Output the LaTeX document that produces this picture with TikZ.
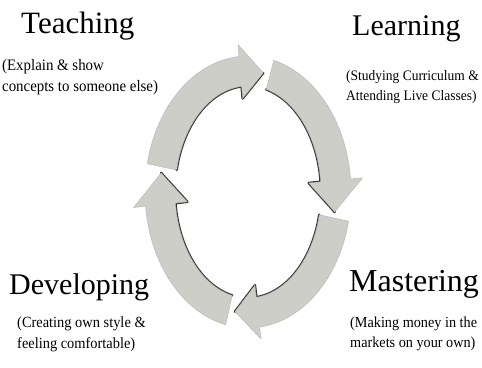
\documentclass[tikz,border=0pt]{standalone}
\usepackage{fontspec}
\setmainfont{Liberation Serif}
\newfontfamily\subfont[FakeStretch=0.93]{Liberation Serif}
\definecolor{arrowgray}{RGB}{206,206,201}
\definecolor{shadowgray}{RGB}{55,55,52}
\def\cx{248}\def\cy{175}\def\ra{88}\def\rb{121}\def\rw{15}\def\rW{27}\def\hl{15}
\newcommand\ringarrow[2]{%
  \pgfmathsetmacro\ringth{#2+\hl}%
  \draw[arrowshadow] plot[domain=#1:\ringth, samples=40] ({\cx+(\ra-\rw)*cos(\x)},{\cy+(\rb-\rw)*sin(\x)})
     -- ({\cx+(\ra-\rW)*cos(\ringth)},{\cy+(\rb-\rW)*sin(\ringth)})
     -- ({\cx+\ra*cos(#2)},{\cy+\rb*sin(#2)});
  \filldraw[arrowbody] plot[domain=#1:\ringth, samples=40] ({\cx+(\ra+\rw)*cos(\x)},{\cy+(\rb+\rw)*sin(\x)})
     -- ({\cx+(\ra+\rW)*cos(\ringth)},{\cy+(\rb+\rW)*sin(\ringth)})
     -- ({\cx+\ra*cos(#2)},{\cy+\rb*sin(#2)})
     -- ({\cx+(\ra-\rW)*cos(\ringth)},{\cy+(\rb-\rW)*sin(\ringth)})
     -- plot[domain=\ringth:#1, samples=40] ({\cx+(\ra-\rw)*cos(\x)},{\cy+(\rb-\rw)*sin(\x)})
     -- cycle;%
}
\begin{document}
\begin{tikzpicture}[x=1pt,y=1pt,
  title/.style={anchor=base west, inner sep=0pt, font=\fontsize{30}{32}\selectfont},
  subtitle/.style={anchor=north west, inner sep=0pt, align=left},
  arrowbody/.style={fill=arrowgray, draw=gray!60, line width=0.4pt, line join=round},
  arrowshadow/.style={draw=shadowgray, line width=2.6pt, line join=round, line cap=round}]
\useasboundingbox (0,0) rectangle (482,367);
% cycle arrows (clockwise)
\ringarrow{168}{80}
\ringarrow{75.5}{-9.5}
\ringarrow{-12.4}{-98.5}
\ringarrow{-102.5}{-189}
% texts
\node[title, font=\fontsize{31}{33}\selectfont] (teach) at (21,333) {Teaching};
\node[subtitle, font=\subfont\fontsize{16}{21.5}\selectfont] (teachsub) at (2,308) {(Explain \& show\\concepts to someone else)};
\node[title] (learn) at (352,331) {Learning};
\node[subtitle, font=\subfont\fontsize{14.5}{20}\selectfont] (learnsub) at (346,297) {(Studying Curriculum \&\\Attending Live Classes)};
\node[title] (dev) at (9,72) {Developing};
\node[subtitle, font=\subfont\fontsize{15.5}{20.5}\selectfont] (devsub) at (17,50) {(Creating own style \&\\feeling comfortable)};
\node[title, font=\fontsize{32}{34}\selectfont] (mast) at (349,75) {Mastering};
\node[subtitle, font=\subfont\fontsize{15.3}{20}\selectfont] (mastsub) at (350,50) {(Making money in the\\markets on your own)};
\end{tikzpicture}
\end{document}
